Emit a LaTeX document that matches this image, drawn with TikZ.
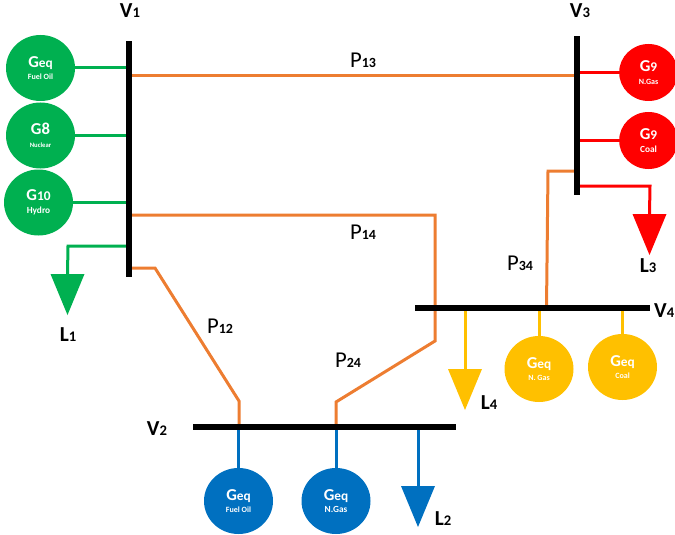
\documentclass[tikz,border=0pt]{standalone}
\usepackage{fontspec}
\setmainfont{Carlito}
\usetikzlibrary{calc,shapes.geometric}
\newcommand{\gennode}[7][gen]{\node[#1,fill=#2] (#3) at (#4) {{\fontsize{12.5}{13}\selectfont\bfseries #5}\\[-2.5pt]{\fontsize{#7}{7}\selectfont\bfseries #6}};}
\newcommand{\bigsub}[2]{{\fontsize{16}{16}\selectfont\bfseries #1{\fontsize{11}{11}\selectfont #2}}}
\newcommand{\powlab}[1]{{\fontsize{17}{17}\selectfont P{\fontsize{10.5}{11}\selectfont\bfseries #1}}}
\newcommand{\sm}[1]{{\fontsize{10}{12}\selectfont #1}}
\definecolor{cgreen}{HTML}{00B050}
\definecolor{cblue}{HTML}{0070C0}
\definecolor{cyellow}{HTML}{FFC000}
\definecolor{cred}{HTML}{FF0000}
\definecolor{corange}{HTML}{ED7D31}
\tikzset{
  gen/.style={ellipse,minimum width=51.75pt,minimum height=49.5pt,inner sep=0pt,text=white,align=center},
  gensmall/.style={gen,minimum width=44pt,minimum height=42.75pt},
  busv/.style={fill=black,inner sep=0pt,minimum width=4.5pt},
  feed/.style={line width=2.25pt},
  tie/.style={line width=2.25pt,corange},
  txt/.style={inner sep=0pt,text=black}
}
\newcommand{\loadtri}[2]{\fill[#1] ($(#2)+(-17,0)$) -- ($(#2)+(17,0)$) -- ($(#2)+(0,41)$) -- cycle;}
\begin{document}
\begin{tikzpicture}[x=0.75pt,y=-0.75pt]
\useasboundingbox (0,0) rectangle (675,535);
\clip (0,0) rectangle (675,535);
% bus anchors
\coordinate (V1) at (129,159);
\coordinate (V3) at (576.5,115.5);
\coordinate (V4) at (532.5,308);
\coordinate (V2) at (324.5,427);
% tie lines
\coordinate (p13) at (129,76);
\coordinate (p14a) at (435,215);
\coordinate (p14b) at (435,341);
\coordinate (p24b) at (336,402);
\coordinate (p24c) at (336,427);
\coordinate (p12a) at (155,268);
\coordinate (p12b) at (239,401);
\coordinate (p12c) at (239,427);
\coordinate (p34a) at (548,171);
\coordinate (p34b) at (546.5,308);
\draw[tie] (p13) -- (p13 -| V3);
\draw[tie] (V1 |- p14a) -- (p14a) -- (p14b) -- (p24b) -- (p24c);
\draw[tie] (V1 |- p12a) -- (p12a) -- (p12b) -- (p12c);
\draw[tie] (V3 |- p34a) -- (p34a) -- (p34b);
% bus 1
\gennode{cgreen}{g1}{40.5,68}{G\sm{eq}}{Fuel Oil}{6}
\gennode{cgreen}{g2}{40.5,135.5}{G8}{Nuclear}{5}
\gennode{cgreen}{g3}{38.5,202.5}{G\sm{10}}{Hydro}{7}
\draw[feed,cgreen] (g1) -- (g1 -| V1);
\draw[feed,cgreen] (g2) -- (g2 -| V1);
\draw[feed,cgreen] (g3) -- (g3 -| V1);
\coordinate (l1a) at (68,246);
\coordinate (l1b) at (67.5,274);
\draw[feed,cgreen] (V1 |- l1a) -- (l1a) -- (l1b);
\loadtri{cgreen}{l1b}
% bus 3
\gennode[gensmall]{cred}{g4}{648.5,72.5}{G\sm{9}}{N.Gas}{6}
\gennode[gensmall]{cred}{g5}{648.5,140.5}{G\sm{9}}{Coal}{7}
\draw[feed,cred] (g4) -- (g4 -| V3);
\draw[feed,cred] (g5) -- (g5 -| V3);
\coordinate (l3a) at (650,186);
\coordinate (l3b) at (649.5,214);
\draw[feed,cred] (V3 |- l3a) -- (l3a) -- (l3b);
\loadtri{cred}{l3b}
% bus 4
\gennode{cyellow}{g6}{539,369}{G\sm{eq}}{N. Gas}{6}
\gennode{cyellow}{g7}{622.5,367}{G\sm{eq}}{Coal}{6}
\draw[feed,cyellow] (g6) -- (g6 |- V4);
\draw[feed,cyellow] (g7) -- (g7 |- V4);
\coordinate (l4b) at (465,369);
\draw[feed,cyellow] (l4b |- V4) -- (l4b);
\loadtri{cyellow}{l4b}
% bus 2
\gennode{cblue}{g8}{238.5,501}{G\sm{eq}}{Fuel Oil}{6}
\gennode{cblue}{g9}{336,501}{G\sm{eq}}{N.Gas}{7}
\draw[feed,cblue] (g8) -- (g8 |- V2);
\draw[feed,cblue] (g9) -- (g9 |- V2);
\coordinate (l2b) at (418,486);
\draw[feed,cblue] (l2b |- V2) -- (l2b);
\loadtri{cblue}{l2b}
% buses on top of the lines
\node[busv,minimum height=177pt] (busV1) at (V1) {};
\node[busv,minimum height=119.25pt] (busV3) at (V3) {};
\node[busv,minimum width=176.25pt,minimum height=4.5pt] (busV4) at (V4) {};
\node[busv,minimum width=197.25pt,minimum height=4.5pt] (busV2) at (V2) {};
% labels
\node[txt] (tV1) at (130,11) {\bigsub{V}{1}};
\node[txt] (tV3) at (580,11) {\bigsub{V}{3}};
\node[txt,anchor=east] (tV4) at (674.5,311) {\bigsub{V}{4}};
\node[txt] (tV2) at (157,429) {\bigsub{V}{2}};
\node[txt] (tL1) at (68,335) {\bigsub{L}{1}};
\node[txt] (tL3) at (648,266) {\bigsub{L}{3}};
\node[txt] (tL4) at (489,403) {\bigsub{L}{4}};
\node[txt] (tL2) at (443,519) {\bigsub{L}{2}};
\node[txt] (tP13) at (363,60) {\powlab{13}};
\node[txt] (tP14) at (363,232) {\powlab{14}};
\node[txt] (tP12) at (220,326) {\powlab{12}};
\node[txt] (tP34) at (520,263) {\powlab{34}};
\node[txt] (tP24) at (348,360) {\powlab{24}};
\end{tikzpicture}
\end{document}
